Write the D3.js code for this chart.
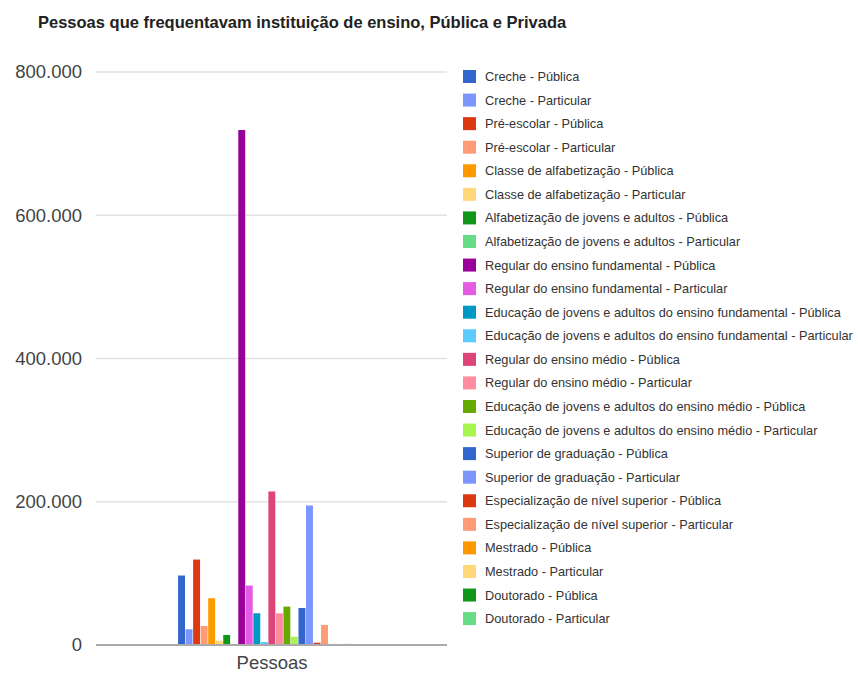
<!DOCTYPE html>
<html>
<head>
<meta charset="utf-8">
<script src="https://cdn.jsdelivr.net/npm/d3@7"></script>
<style>
  body { margin: 0; background: #fff; }
  text { font-family: Arial, "Liberation Sans", sans-serif; }
</style>
</head>
<body>
<div id="chart"></div>
<script>
var svgWidth = 858;
var svgHeight = 673;

var margin = { top: 72, right: 411, bottom: 28, left: 96 };
var width = svgWidth - margin.left - margin.right;
var height = svgHeight - margin.top - margin.bottom;

// data
var categories = ["Pessoas"];
var seriesNames = [
  "Creche - Pública", "Creche - Particular",
  "Pré-escolar - Pública", "Pré-escolar - Particular",
  "Classe de alfabetização - Pública", "Classe de alfabetização - Particular",
  "Alfabetização de jovens e adultos - Pública", "Alfabetização de jovens e adultos - Particular",
  "Regular do ensino fundamental - Pública", "Regular do ensino fundamental - Particular",
  "Educação de jovens e adultos do ensino fundamental - Pública", "Educação de jovens e adultos do ensino fundamental - Particular",
  "Regular do ensino médio - Pública", "Regular do ensino médio - Particular",
  "Educação de jovens e adultos do ensino médio - Pública", "Educação de jovens e adultos do ensino médio - Particular",
  "Superior de graduação - Pública", "Superior de graduação - Particular",
  "Especialização de nível superior - Pública", "Especialização de nível superior - Particular",
  "Mestrado - Pública", "Mestrado - Particular",
  "Doutorado - Pública", "Doutorado - Particular"
];
var seriesValues = [
  97000, 22000,
  119300, 26600,
  65300, 6000,
  14000, 1000,
  719000, 83000,
  44300, 4200,
  214400, 44300,
  53600, 11600,
  51700, 194800,
  3200, 28000,
  1500, 1000,
  1500, 500
];
var seriesColors = [
  "#3366cc", "#7b96ff", "#dc3912", "#ff9c75", "#ff9900", "#ffd87a",
  "#109618", "#66dd85", "#990099", "#e45be4", "#0099c6", "#5bcaff",
  "#dd4477", "#ff8ca0", "#66aa00", "#a6f550",
  "#3366cc", "#7b96ff", "#dc3912", "#ff9c75", "#ff9900", "#ffd87a",
  "#109618", "#66dd85"
];
var yTicks = [0, 200000, 400000, 600000, 800000];

var data = seriesNames.map(function(name, i) {
  return { name: name, value: seriesValues[i], color: seriesColors[i] };
});

var svg = d3.select("#chart")
  .append("svg")
  .attr("width", svgWidth)
  .attr("height", svgHeight);

// title
svg.append("text")
  .attr("x", 38)
  .attr("y", 28)
  .attr("font-size", "16.5px")
  .attr("font-weight", "bold")
  .attr("fill", "#222")
  .text("Pessoas que frequentavam instituição de ensino, Pública e Privada");

var chartGroup = svg.append("g")
  .attr("transform", `translate(${margin.left}, ${margin.top})`);

var x0 = d3.scaleBand()
  .domain(categories)
  .range([0, width])
  .paddingInner(0)
  .paddingOuter(0.475)
  .align(0.48);

var x1 = d3.scaleBand()
  .domain(seriesNames)
  .range([0, x0.bandwidth()])
  .paddingInner(0.08);

var y = d3.scaleLinear()
  .domain([0, 800000])
  .range([height, 0]);

var fmt = function(d) { return d3.format(",")(d).replace(/,/g, "."); };

// gridlines
chartGroup.append("g")
  .selectAll("line")
  .data(yTicks.filter(function(d) { return d > 0; }))
  .enter()
  .append("line")
  .attr("x1", 0)
  .attr("x2", width)
  .attr("y1", d => y(d))
  .attr("y2", d => y(d))
  .attr("stroke", "#e2e2e2")
  .attr("stroke-width", 1.5);

// y axis labels
var leftAxis = d3.axisLeft(y)
  .tickValues(yTicks)
  .tickFormat(fmt)
  .tickSize(0)
  .tickPadding(14);

var yAxis = chartGroup.append("g").call(leftAxis);
yAxis.select(".domain").remove();
yAxis.selectAll("text")
  .attr("font-size", "18.5px")
  .attr("fill", "#444")
  .attr("font-family", "Arial, 'Liberation Sans', sans-serif");

// bars
var groups = chartGroup.selectAll(".group")
  .data(categories)
  .enter()
  .append("g")
  .attr("transform", d => `translate(${x0(d)}, 0)`);

groups.selectAll("rect")
  .data(data)
  .enter()
  .append("rect")
  .attr("x", d => x1(d.name))
  .attr("width", x1.bandwidth())
  .attr("y", d => y(d.value))
  .attr("height", d => height - y(d.value))
  .attr("fill", d => d.color);

// baseline
chartGroup.append("line")
  .attr("x1", 0)
  .attr("x2", width)
  .attr("y1", y(0))
  .attr("y2", y(0))
  .attr("stroke", "#aaa")
  .attr("stroke-width", 2);

// x axis label
var bottomAxis = d3.axisBottom(x0).tickSize(0).tickPadding(11);
var xAxis = chartGroup.append("g")
  .attr("transform", `translate(0, ${height})`)
  .call(bottomAxis);
xAxis.select(".domain").remove();
xAxis.selectAll("text")
  .attr("font-size", "18.5px")
  .attr("fill", "#444")
  .attr("font-family", "Arial, 'Liberation Sans', sans-serif")
  .attr("dx", 4);

// legend
var legend = svg.append("g")
  .attr("transform", "translate(463, 70)");

var items = legend.selectAll(".item")
  .data(data)
  .enter()
  .append("g")
  .attr("transform", (d, i) => `translate(0, ${i * 23.57})`);

items.append("rect")
  .attr("width", 13)
  .attr("height", 13)
  .attr("fill", d => d.color);

items.append("text")
  .attr("x", 22)
  .attr("y", 11)
  .attr("font-size", "12.75px")
  .attr("fill", "#333")
  .text(d => d.name);
</script>
</body>
</html>
